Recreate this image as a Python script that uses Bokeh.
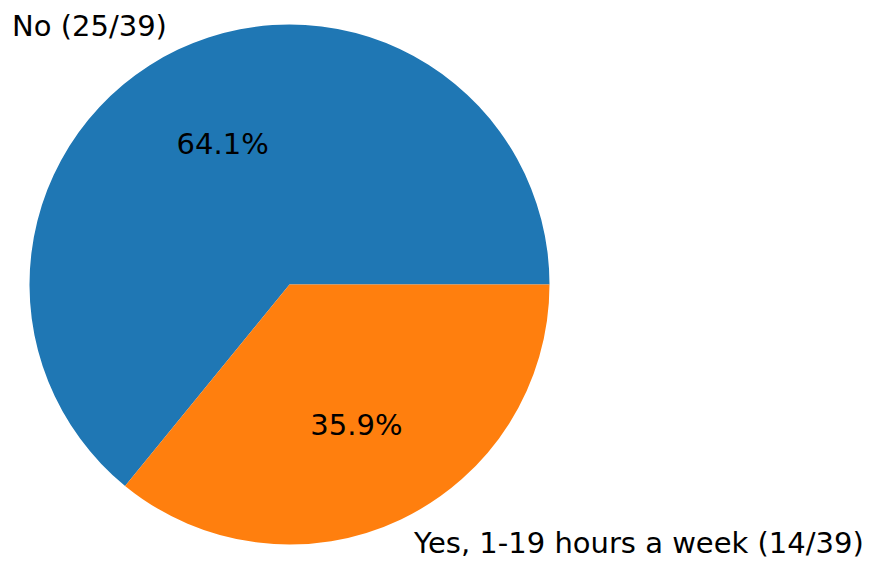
import math
from bokeh.plotting import figure
from bokeh.models import Range1d, ColumnDataSource
from bokeh.core.properties import value
from bokeh.embed import file_html
from bokeh.resources import INLINE

# Data
categories = ["No", "Yes, 1-19 hours a week"]
counts = [25, 14]
colors = ["#1f77b4", "#ff7f0e"]

total = sum(counts)
W, H = 872, 563
cx, cy, r = 289, H - 284, 260

starts, ends, labels, pcts = [], [], [], []
lx, ly, lalign, px, py = [], [], [], [], []
acc = 0.0
for cat, c in zip(categories, counts):
    a0 = 2 * math.pi * acc / total
    acc += c
    a1 = 2 * math.pi * acc / total
    starts.append(a0)
    ends.append(a1)
    mid = (a0 + a1) / 2
    lx.append(cx + 1.1 * r * math.cos(mid) + (2 if math.cos(mid) > 0 else 0))
    ly.append(cy + 1.1 * r * math.sin(mid))
    lalign.append("right" if math.cos(mid) < 0 else "left")
    px.append(cx + 0.6 * r * math.cos(mid))
    py.append(cy + 0.6 * r * math.sin(mid))
    labels.append(f"{cat} ({c}/{total})")
    pcts.append(f"{100 * c / total:.1f}%")

src = ColumnDataSource(dict(start=starts, end=ends, color=colors,
                            lx=lx, ly=ly, label=labels, align=lalign,
                            px=px, py=py, pct=pcts))

p = figure(width=W, height=H, output_backend="svg", toolbar_location=None,
           x_range=Range1d(0, W), y_range=Range1d(0, H), min_border=0)
p.axis.visible = False
p.grid.visible = False
p.outline_line_color = None

p.wedge(x=cx, y=cy, radius=r, start_angle="start", end_angle="end",
        direction="anticlock", fill_color="color", line_color=None, source=src)

p.text(x="lx", y="ly", text="label", text_align="align", text_baseline="middle",
       text_font=value("DejaVu Sans"), text_font_size="29px", text_color="#000000",
       source=src)
p.text(x="px", y="py", text="pct", text_align="center", text_baseline="middle",
       text_font=value("DejaVu Sans"), text_font_size="29px", text_color="#000000",
       source=src)

open("out.html", "w").write(file_html(p, INLINE))
